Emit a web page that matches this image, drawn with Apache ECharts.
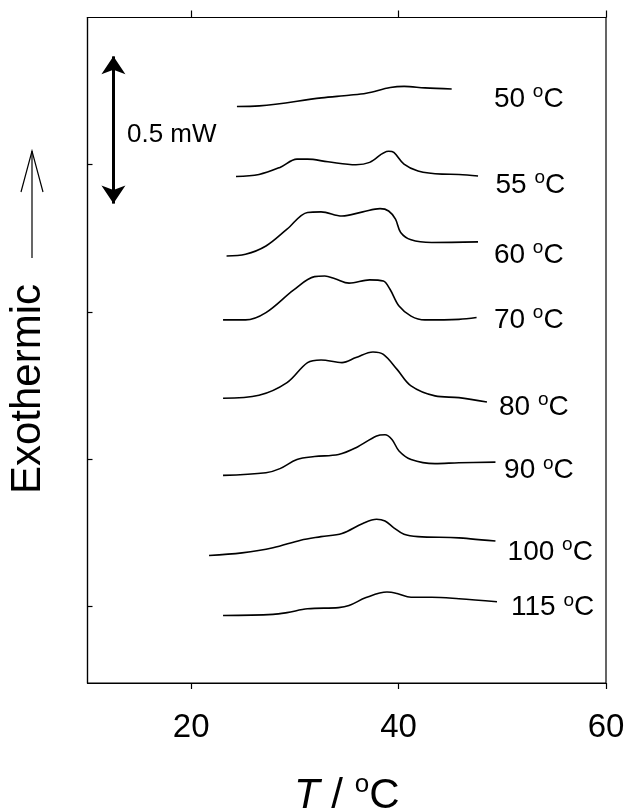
<!DOCTYPE html>
<html>
<head>
<meta charset="utf-8">
<script src="https://cdn.jsdelivr.net/npm/echarts@6/dist/echarts.min.js"></script>
<style>
  html, body { margin: 0; padding: 0; background: #fff; }
  #chart { width: 626px; height: 809px; }
</style>
</head>
<body>
<div id="chart"></div>
<script>
const FONT = '"Liberation Sans", Arial, Helvetica, sans-serif';

// Axis ticks (temperature in °C, heat flow in mW)
const xTicks = [20, 40, 60];
const yTicks = [0, 0.5, 1, 1.5];

// Isothermal crystallization temperatures (curve labels)
const temps = ['50', '55', '60', '70', '80', '90', '100', '115'];

// DSC melting traces, [T / °C, offset heat flow / mW]
const curve50 = [[24.41,1.698],[26.57,1.700],[32.56,1.727],[35.22,1.736],[36.88,1.743],[39.20,1.762],[40.53,1.766],[42.53,1.761],[45.12,1.757]];
const curve55 = [[24.32,1.460],[26.54,1.467],[28.56,1.491],[30.20,1.519],[31.22,1.519],[33.19,1.510],[35.89,1.500],[37.21,1.508],[39.04,1.546],[39.54,1.542],[40.52,1.502],[41.87,1.479],[44.19,1.468],[45.82,1.467],[47.66,1.462]];
const curve60 = [[23.41,1.190],[25.24,1.196],[27.21,1.224],[29.24,1.281],[31.22,1.338],[32.52,1.340],[34.54,1.326],[36.55,1.340],[38.21,1.351],[39.04,1.343],[39.70,1.315],[40.20,1.270],[41.20,1.245],[43.19,1.236],[47.66,1.238]];
const curve70 = [[23.07,0.973],[25.24,0.973],[27.21,0.998],[29.89,1.075],[31.89,1.120],[32.88,1.122],[33.87,1.113],[35.22,1.098],[37.21,1.109],[38.53,1.105],[39.17,1.077],[40.04,1.020],[41.20,0.986],[42.53,0.973],[45.82,0.975],[47.52,0.981]];
const curve80 = [[23.07,0.707],[26.54,0.717],[29.24,0.760],[31.22,0.828],[32.52,0.837],[34.54,0.828],[35.89,0.845],[37.53,0.864],[38.53,0.856],[39.85,0.805],[41.20,0.749],[43.51,0.715],[45.82,0.709],[48.52,0.694]];
const curve90 = [[23.07,0.445],[27.21,0.454],[28.56,0.468],[30.20,0.499],[31.89,0.509],[34.21,0.516],[35.89,0.539],[37.88,0.579],[38.69,0.583],[39.36,0.567],[40.04,0.528],[41.20,0.499],[43.51,0.485],[45.82,0.488],[49.34,0.490]];
const curve100 = [[21.72,0.173],[24.90,0.182],[27.89,0.199],[30.56,0.225],[32.52,0.237],[34.54,0.248],[36.55,0.282],[37.88,0.296],[38.69,0.290],[39.54,0.267],[40.52,0.245],[41.87,0.237],[45.82,0.233],[49.34,0.222]];
const curve115 = [[23.07,-0.031],[27.89,-0.027],[29.24,-0.021],[31.22,-0.008],[34.21,-0.004],[35.22,0.003],[36.86,0.030],[38.88,0.049],[39.85,0.044],[41.20,0.031],[43.19,0.031],[45.82,0.026],[49.49,0.016]];

// Where each curve's label sits (left edge T, vertical centre)
const labelT = [49.19, 49.34, 49.19, 49.19, 49.68, 50.17, 50.51, 50.84];
const labelV = [1.734, 1.441, 1.203, 0.983, 0.688, 0.471, 0.195, 0.007];

// Scale bar: 0.5 mW, drawn at T = 12.5 °C
const scaleBarT = 12.5;
const scaleBarMid = 1.618;
const scaleBarSpan = 0.5;

const curves = [curve50, curve55, curve60, curve70, curve80, curve90, curve100, curve115];

const chart = echarts.init(document.getElementById('chart'), null, { renderer: 'canvas' });

const supRich = {
  n: { fontFamily: FONT, fontSize: 28, color: '#000' },
  s: { fontFamily: FONT, fontSize: 19, color: '#000', padding: [0, 0, 14, 0] }
};

const lineSeries = curves.map((c, i) => ({
  name: temps[i] + ' °C',
  type: 'line',
  data: c,
  smooth: 0.35,
  showSymbol: false,
  silent: true,
  lineStyle: { color: '#000', width: 1.6 },
  z: 3
}));

const labelSeries = {
  type: 'scatter',
  silent: true,
  symbolSize: 0,
  itemStyle: { color: '#000', opacity: 1 },
  data: temps.map((t, i) => [labelT[i], labelV[i], t]),
  label: {
    show: true,
    position: 'right',
    distance: 0,
    offset: [0, 3],
    color: '#000',
    opacity: 1,
    textBorderWidth: 0,
    formatter: p => `{n|${p.value[2]} }{s|o}{n|C}`,
    rich: supRich
  },
  markLine: {
    silent: true,
    animation: false,
    symbol: ['arrow', 'arrow'],
    symbolSize: [18, 18],
    lineStyle: { color: '#000', width: 3, type: 'solid', opacity: 1 },
    itemStyle: { color: '#000', opacity: 1 },
    label: { show: false },
    data: [[
      { coord: [scaleBarT, scaleBarMid - scaleBarSpan / 2] },
      { coord: [scaleBarT, scaleBarMid + scaleBarSpan / 2] }
    ]]
  }
};

const option = {
  backgroundColor: '#fff',
  animation: false,
  grid: {
    left: 87.5, right: 20, top: 17.5, bottom: 126,
    outerBoundsMode: 'none',
    containLabel: false,
    show: true, borderColor: '#000', borderWidth: 1.2, backgroundColor: 'transparent'
  },
  xAxis: [
    {
      type: 'value', position: 'bottom', min: 10, max: 60,
      axisLine: { show: true, onZero: false, lineStyle: { color: '#000', width: 1.2 } },
      axisTick: { show: true, inside: false, length: 6, customValues: xTicks, lineStyle: { color: '#000', width: 1.2 } },
      axisLabel: { show: true, customValues: xTicks, margin: 28, fontFamily: FONT, fontSize: 33, color: '#000' },
      splitLine: { show: false },
      name: '{i|T} / {s|o}C',
      nameLocation: 'middle',
      nameGap: 89,
      nameTextStyle: {
        fontFamily: FONT, fontSize: 42, color: '#000',
        rich: {
          i: { fontFamily: FONT, fontSize: 42, fontStyle: 'italic', color: '#000' },
          s: { fontFamily: FONT, fontSize: 26, color: '#000', padding: [0, 0, 22, 0] }
        }
      }
    },
    {
      type: 'value', position: 'top', min: 10, max: 60,
      axisLine: { show: true, onZero: false, lineStyle: { color: '#000', width: 1.2 } },
      axisTick: { show: true, inside: false, length: 7, customValues: xTicks, lineStyle: { color: '#000', width: 1.2 } },
      axisLabel: { show: false },
      splitLine: { show: false }
    }
  ],
  yAxis: [
    {
      type: 'value', min: -0.26, max: 2.0,
      axisLine: { show: true, onZero: false, lineStyle: { color: '#000', width: 1.2 } },
      axisTick: { show: true, inside: true, length: 5, customValues: yTicks, lineStyle: { color: '#000', width: 1.2 } },
      axisLabel: { show: false },
      splitLine: { show: false }
    }
  ],
  graphic: [
    {
      type: 'text',
      x: 28, y: 389,
      rotation: Math.PI / 2,
      style: {
        text: 'Exothermic',
        font: '42px ' + FONT,
        fill: '#000',
        align: 'center',
        verticalAlign: 'middle'
      }
    },
    {
      type: 'line',
      shape: { x1: 32, y1: 258, x2: 32, y2: 151 },
      style: { stroke: '#000', lineWidth: 1.2 }
    },
    {
      type: 'polyline',
      shape: { points: [[21, 192], [32, 151], [43, 192]] },
      style: { stroke: '#000', lineWidth: 1.2, fill: null }
    },
    {
      type: 'text',
      x: 127, y: 135,
      style: {
        text: '0.5 mW',
        font: '26px ' + FONT,
        fill: '#000',
        align: 'left',
        verticalAlign: 'middle'
      }
    }
  ],
  series: [...lineSeries, labelSeries]
};

chart.setOption(option);
</script>
</body>
</html>
